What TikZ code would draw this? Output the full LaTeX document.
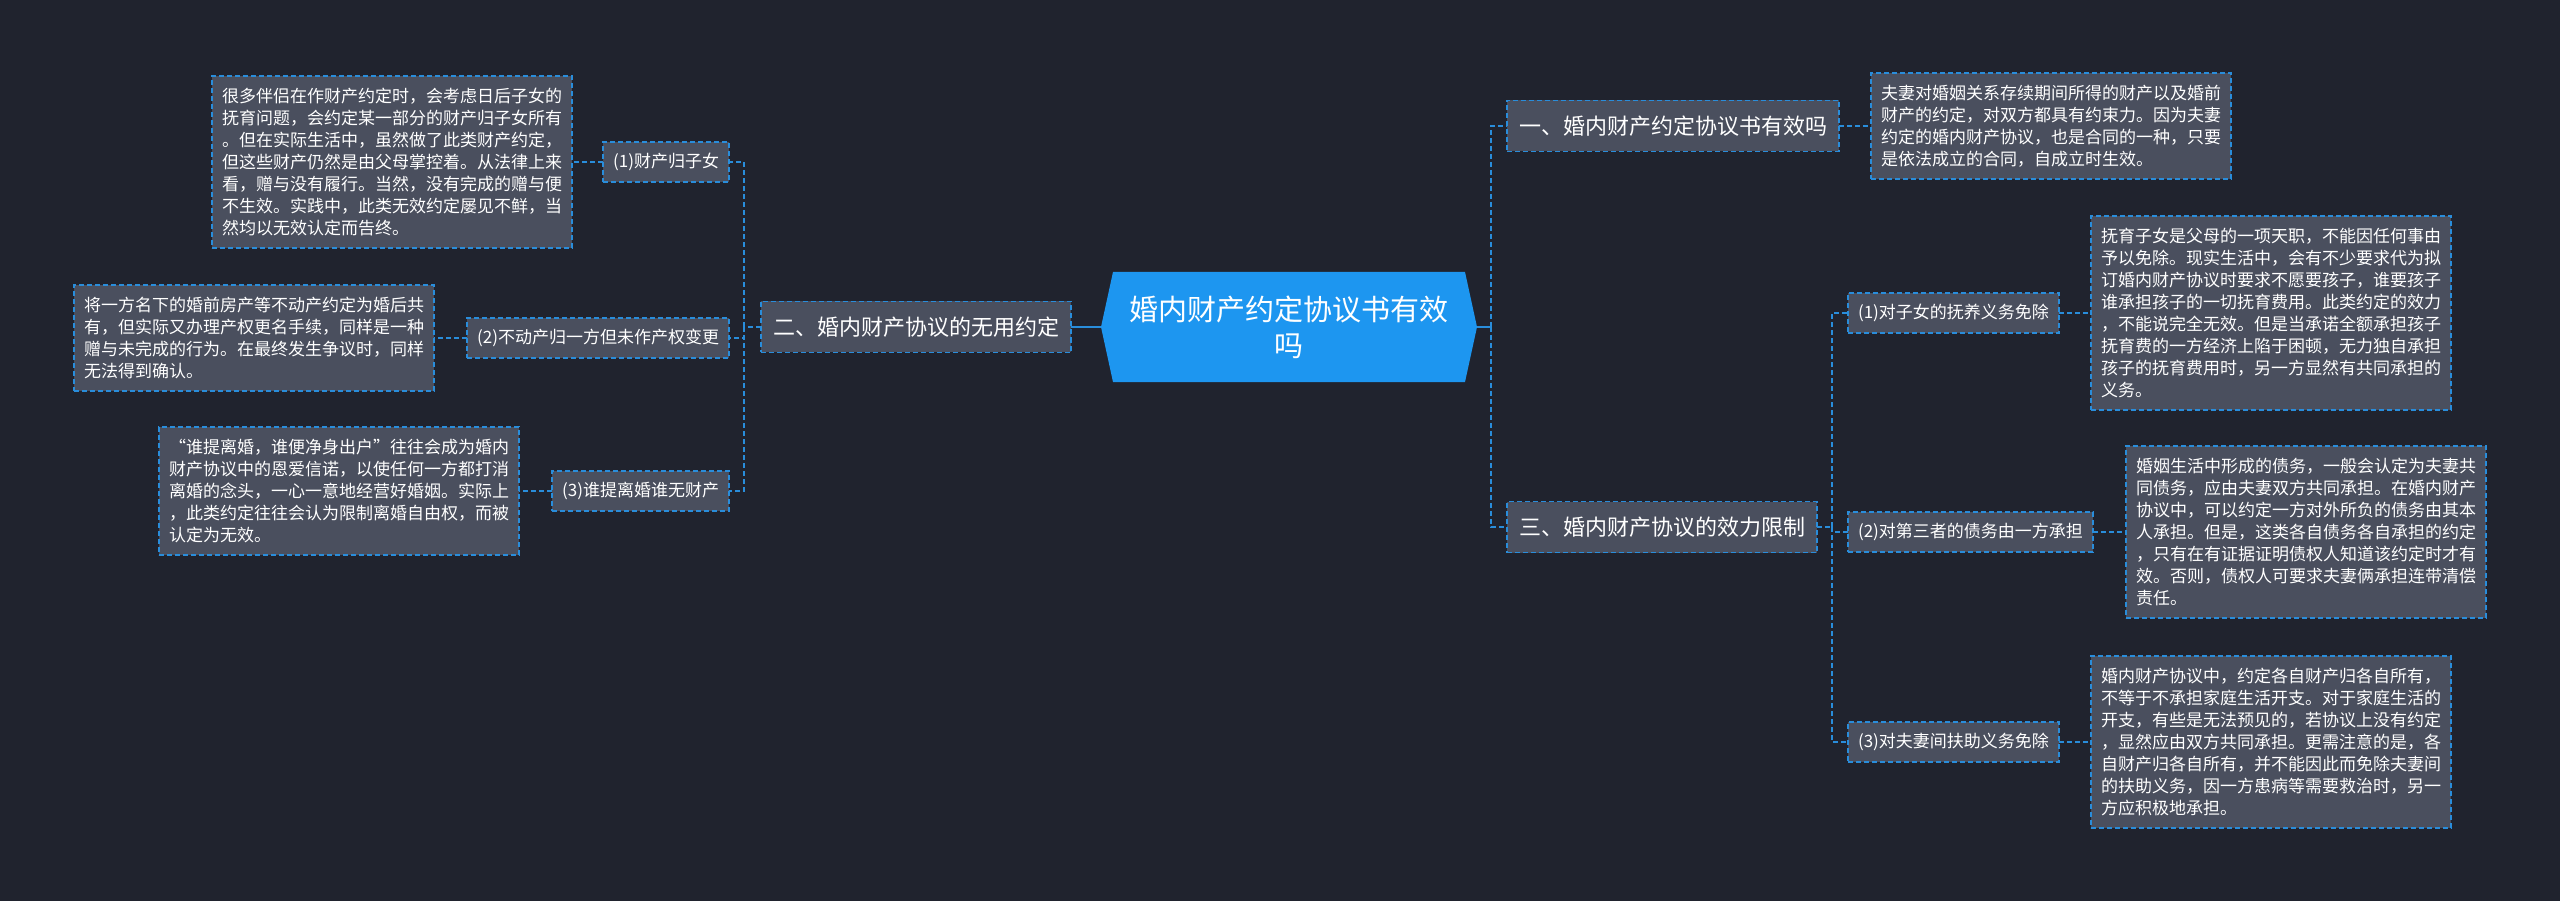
\documentclass[tikz,border=0pt]{standalone}
\usepackage{fontspec}
\setmainfont{Noto Sans CJK SC}
\usetikzlibrary{calc}
\definecolor{bgc}{RGB}{32,35,46}
\definecolor{boxc}{RGB}{74,79,94}
\definecolor{edgec}{RGB}{41,141,219}
\definecolor{hubc}{RGB}{29,150,240}
\pgfdeclarelayer{back}
\pgfsetlayers{back,main}
\begin{document}
\begin{tikzpicture}[x=1pt,y=-1pt,
  conn/.style={draw=edgec, line width=1.5pt, dash pattern=on 5pt off 3pt},
  solidc/.style={draw=edgec, line width=2pt},
  boxbase/.style={draw=edgec, fill=boxc, line width=1.5pt, dash pattern=on 5pt off 3pt, text=white, inner ysep=0pt, outer sep=0pt},
  detail/.style={boxbase, font=\fontsize{17}{22}\selectfont, align=left, inner xsep=10pt, minimum height={#1*22+18}},
  subn/.style={boxbase, font=\fontsize{17}{20}\selectfont, inner xsep=10pt, minimum height=40},
  mainn/.style={boxbase, font=\fontsize{22}{26}\selectfont, inner xsep=12pt, minimum height=51},
  hub/.style={text=white, font=\fontsize{29}{36}\selectfont, align=center, minimum width=376, minimum height=110, inner sep=0pt, outer sep=0pt}
]
\begin{pgfonlayer}{back}
\fill[bgc] (0,0) rectangle (2560,901);
\end{pgfonlayer}
\useasboundingbox (0,0) rectangle (2560,901);

% central
\node[hub] (c) at (1289,327) {婚内财产约定协议书有效\\吗};
\begin{pgfonlayer}{back}
\fill[hubc] (c.west) -- ($(c.north west)+(12,0)$) -- ($(c.north east)+(-12,0)$) -- (c.east) -- ($(c.south east)+(-12,0)$) -- ($(c.south west)+(12,0)$) -- cycle;
\end{pgfonlayer}

% main branches
\node[mainn, anchor=east] (m2) at (1071,327) {二、婚内财产协议的无用约定};
\node[mainn, anchor=west] (m1) at (1507,126) {一、婚内财产约定协议书有效吗};
\node[mainn, anchor=west] (m3) at (1507,527) {三、婚内财产协议的效力限制};

% left sub nodes
\node[subn, anchor=east] (ls1) at (729,162) {(1)财产归子女};
\node[subn, anchor=east] (ls2) at (729,338) {(2)不动产归一方但未作产权变更};
\node[subn, anchor=east] (ls3) at (729,491) {(3)谁提离婚谁无财产};

% left details
\node[detail=7, anchor=east] (ld1) at (572,162) {很多伴侣在作财产约定时，会考虑日后子女的\\抚育问题，会约定某一部分的财产归子女所有\\。但在实际生活中，虽然做了此类财产约定，\\但这些财产仍然是由父母掌控着。从法律上来\\看，赠与没有履行。当然，没有完成的赠与便\\不生效。实践中，此类无效约定屡见不鲜，当\\然均以无效认定而告终。};
\node[detail=4, anchor=east] (ld2) at (434,338) {将一方名下的婚前房产等不动产约定为婚后共\\有，但实际又办理产权更名手续，同样是一种\\赠与未完成的行为。在最终发生争议时，同样\\无法得到确认。};
\node[detail=5, anchor=east] (ld3) at (519,491) {“谁提离婚，谁便净身出户”往往会成为婚内\\财产协议中的恩爱信诺，以使任何一方都打消\\离婚的念头，一心一意地经营好婚姻。实际上\\，此类约定往往会认为限制离婚自由权，而被\\认定为无效。};

% right sub nodes
\node[subn, anchor=west] (rs1) at (1848,313) {(1)对子女的抚养义务免除};
\node[subn, anchor=west] (rs2) at (1848,532) {(2)对第三者的债务由一方承担};
\node[subn, anchor=west] (rs3) at (1848,742) {(3)对夫妻间扶助义务免除};

% right details
\node[detail=4, anchor=west] (rd0) at (1871,126) {夫妻对婚姻关系存续期间所得的财产以及婚前\\财产的约定，对双方都具有约束力。因为夫妻\\约定的婚内财产协议，也是合同的一种，只要\\是依法成立的合同，自成立时生效。};
\node[detail=8, anchor=west] (rd1) at (2091,313) {抚育子女是父母的一项天职，不能因任何事由\\予以免除。现实生活中，会有不少要求代为拟\\订婚内财产协议时要求不愿要孩子，谁要孩子\\谁承担孩子的一切抚育费用。此类约定的效力\\，不能说完全无效。但是当承诺全额承担孩子\\抚育费的一方经济上陷于困顿，无力独自承担\\孩子的抚育费用时，另一方显然有共同承担的\\义务。};
\node[detail=7, anchor=west] (rd2) at (2126,532) {婚姻生活中形成的债务，一般会认定为夫妻共\\同债务，应由夫妻双方共同承担。在婚内财产\\协议中，可以约定一方对外所负的债务由其本\\人承担。但是，这类各自债务各自承担的约定\\，只有在有证据证明债权人知道该约定时才有\\效。否则，债权人可要求夫妻俩承担连带清偿\\责任。};
\node[detail=7, anchor=west] (rd3) at (2091,742) {婚内财产协议中，约定各自财产归各自所有，\\不等于不承担家庭生活开支。对于家庭生活的\\开支，有些是无法预见的，若协议上没有约定\\，显然应由双方共同承担。更需注意的是，各\\自财产归各自所有，并不能因此而免除夫妻间\\的扶助义务，因一方患病等需要救治时，另一\\方应积极地承担。};

% connectors: left
\draw[solidc] (c.west) -- (m2.east);
\coordinate (lj) at ($(m2.west)+(-17,0)$);
\draw[conn] (m2.west) -- (lj);
\draw[conn] (lj) |- (ls1.east);
\draw[conn] (lj) |- (ls2.east);
\draw[conn] (lj) |- (ls3.east);
\draw[conn] (ls1.west) -- (ld1.east);
\draw[conn] (ls2.west) -- (ld2.east);
\draw[conn] (ls3.west) -- (ld3.east);

% connectors: right
\coordinate (rj) at ($(c.east)+(14,0)$);
\draw[solidc] (c.east) -- (rj);
\draw[conn] (rj) |- (m1.west);
\draw[conn] (rj) |- (m3.west);
\draw[conn] (m1.east) -- (rd0.west);
\coordinate (rj3) at ($(m3.east)+(15,0)$);
\draw[conn] (m3.east) -- (rj3);
\draw[conn] (rj3) |- (rs1.west);
\draw[conn] (rj3) |- (rs2.west);
\draw[conn] (rj3) |- (rs3.west);
\draw[conn] (rs1.east) -- (rd1.west);
\draw[conn] (rs2.east) -- (rd2.west);
\draw[conn] (rs3.east) -- (rd3.west);
\end{tikzpicture}
\end{document}
